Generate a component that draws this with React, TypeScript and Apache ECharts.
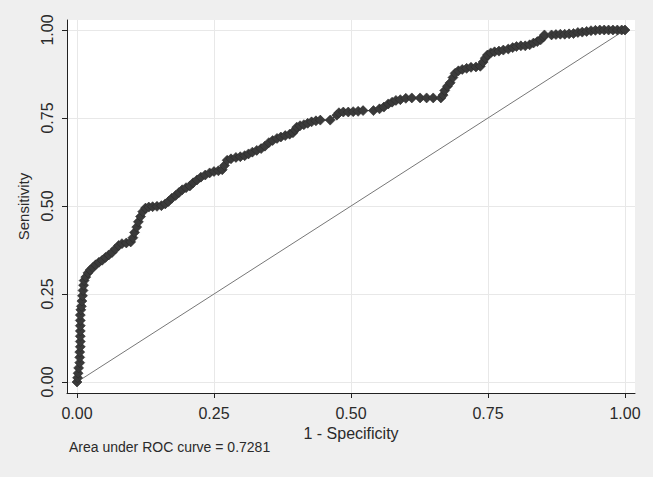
import React, { useEffect, useRef } from "react";
import * as echarts from "echarts";

const tickValues = [0, 0.25, 0.5, 0.75, 1];
const tickLabels = ["0.00", "0.25", "0.50", "0.75", "1.00"];
const xAxisTitle = "1 - Specificity";
const yAxisTitle = "Sensitivity";
const aucNote = "Area under ROC curve = 0.7281";

// 1 - specificity (false positive rate)
const fprValues = [
  0, 0.001, 0.002, 0.003, 0.005, 0.005, 0.005, 0.006, 0.006, 0.006, 0.006, 0.006, 0.006, 0.006,
  0.007, 0.008, 0.009, 0.01, 0.011, 0.012, 0.013, 0.016, 0.02, 0.024, 0.029, 0.034, 0.04, 0.046,
  0.052, 0.058, 0.064, 0.07, 0.076, 0.082, 0.09, 0.098, 0.102, 0.105, 0.109, 0.112, 0.116, 0.12,
  0.125, 0.131, 0.138, 0.146, 0.154, 0.161, 0.167, 0.173, 0.18, 0.186, 0.192, 0.199, 0.206, 0.212,
  0.219, 0.226, 0.234, 0.242, 0.25, 0.258, 0.265, 0.269, 0.274, 0.281, 0.29, 0.298, 0.306, 0.313,
  0.32, 0.328, 0.336, 0.343, 0.35, 0.357, 0.365, 0.372, 0.38, 0.388, 0.394, 0.398, 0.401, 0.407,
  0.414, 0.421, 0.428, 0.436, 0.444, 0.462, 0.474, 0.478, 0.486, 0.495, 0.504, 0.513, 0.522, 0.541,
  0.552, 0.56, 0.568, 0.575, 0.582, 0.59, 0.6, 0.611, 0.626, 0.638, 0.65, 0.664, 0.668, 0.671,
  0.676, 0.681, 0.686, 0.69, 0.696, 0.703, 0.711, 0.719, 0.728, 0.736, 0.741, 0.745, 0.749, 0.755,
  0.762, 0.77, 0.778, 0.787, 0.795, 0.802, 0.81, 0.818, 0.826, 0.833, 0.84, 0.846, 0.851, 0.853,
  0.866, 0.874, 0.882, 0.89, 0.898, 0.906, 0.914, 0.922, 0.93, 0.938, 0.946, 0.954, 0.962, 0.97,
  0.978, 0.986, 0.994, 1,
];

// sensitivity (true positive rate)
const tprValues = [
  0, 0.012, 0.025, 0.04, 0.055, 0.07, 0.085, 0.1, 0.115, 0.13, 0.145, 0.16, 0.175, 0.19,
  0.205, 0.215, 0.23, 0.245, 0.26, 0.275, 0.288, 0.298, 0.31, 0.318, 0.325, 0.333, 0.34, 0.346,
  0.354, 0.361, 0.368, 0.378, 0.388, 0.393, 0.395, 0.398, 0.41, 0.425, 0.44, 0.455, 0.47, 0.484,
  0.494, 0.497, 0.498, 0.499, 0.501, 0.506, 0.513, 0.522, 0.53, 0.538, 0.546, 0.552, 0.557, 0.566,
  0.574, 0.582, 0.588, 0.594, 0.598, 0.6, 0.603, 0.615, 0.63, 0.634, 0.638, 0.64, 0.643, 0.648,
  0.653, 0.658, 0.663, 0.67, 0.68, 0.686, 0.692, 0.696, 0.7, 0.704, 0.708, 0.716, 0.724, 0.728,
  0.731, 0.735, 0.739, 0.742, 0.744, 0.744, 0.758, 0.765, 0.767, 0.767, 0.768, 0.769, 0.771, 0.771,
  0.776, 0.781, 0.79, 0.795, 0.8, 0.802, 0.806, 0.807, 0.807, 0.807, 0.807, 0.807, 0.815, 0.828,
  0.84, 0.85, 0.865, 0.877, 0.884, 0.888, 0.891, 0.894, 0.895, 0.897, 0.909, 0.92, 0.929, 0.935,
  0.938, 0.94, 0.943, 0.946, 0.95, 0.953, 0.955, 0.955, 0.958, 0.963, 0.967, 0.972, 0.98, 0.986,
  0.986, 0.987, 0.988, 0.988, 0.989, 0.99, 0.993, 0.994, 0.996, 0.998, 0.999, 1, 1, 1,
  1, 1, 1, 1,
];

const referenceLine = [
  [0, 0],
  [1, 1],
];

export default function App() {
  const ref = useRef<HTMLDivElement>(null);

  useEffect(() => {
    if (!ref.current) return;
    const chart = echarts.init(ref.current, null, { renderer: "svg" });
    const font = "Liberation Sans, Arial, sans-serif";
    const rocData = fprValues.map((x, i) => [x, tprValues[i]]);
    const labelFmt = (v: number) => {
      const idx = tickValues.findIndex((t) => Math.abs(t - v) < 1e-9);
      return idx >= 0 ? tickLabels[idx] : "";
    };

    chart.setOption({
      animation: false,
      backgroundColor: "#efefef",
      grid: {
        left: 67,
        top: 20,
        width: 568,
        height: 373,
        show: true,
        backgroundColor: "#ffffff",
        borderWidth: 0,
      },
      xAxis: {
        type: "value",
        min: -0.01825,
        max: 1.01825,
        name: xAxisTitle,
        nameLocation: "middle",
        nameGap: 27,
        nameTextStyle: { fontFamily: font, fontSize: 16, color: "#2a2a2a" },
        axisLine: { show: true, onZero: false, lineStyle: { color: "#222", width: 1 } },
        axisTick: {
          show: true,
          inside: false,
          length: 5,
          customValues: tickValues,
          lineStyle: { color: "#222" },
        },
        axisLabel: {
          customValues: tickValues,
          formatter: labelFmt,
          fontFamily: font,
          fontSize: 16,
          color: "#2a2a2a",
          margin: 12,
        },
        splitLine: { show: true, lineStyle: { color: "#e8e8e8", width: 1 } },
      },
      yAxis: {
        type: "value",
        min: -0.03125,
        max: 1.02841,
        name: yAxisTitle,
        nameLocation: "middle",
        nameGap: 28,
        nameRotate: 90,
        nameTextStyle: { fontFamily: font, fontSize: 15, color: "#2a2a2a" },
        axisLine: { show: true, onZero: false, lineStyle: { color: "#222", width: 1 } },
        axisTick: {
          show: true,
          inside: false,
          length: 5,
          customValues: tickValues,
          lineStyle: { color: "#222" },
        },
        axisLabel: {
          customValues: tickValues,
          formatter: labelFmt,
          rotate: 90,
          fontFamily: font,
          fontSize: 16,
          color: "#2a2a2a",
          margin: 12,
        },
        splitLine: { show: true, lineStyle: { color: "#e8e8e8", width: 1 } },
      },
      series: [
        {
          type: "line",
          data: referenceLine,
          showSymbol: false,
          symbol: "none",
          lineStyle: { color: "#777777", width: 1 },
          z: 2,
        },
        {
          type: "line",
          data: rocData,
          symbol: "diamond",
          symbolSize: [10, 10],
          showSymbol: true,
          showAllSymbol: true,
          itemStyle: { color: "#3a3a3a", borderColor: "#2a2a2a", borderWidth: 0.6 },
          lineStyle: { color: "#333333", width: 1 },
          z: 3,
        },
      ],
      graphic: [
        {
          type: "text",
          left: 69,
          top: 440,
          style: {
            text: aucNote,
            fontFamily: font,
            fontSize: 14,
            fill: "#2a2a2a",
          },
        },
      ],
    });

    return () => chart.dispose();
  }, []);

  return (
    <div
      style={{
        position: "fixed",
        left: 0,
        top: 0,
        width: 655,
        height: 477,
        background: "#ffffff",
      }}
    >
      <div ref={ref} style={{ width: 653, height: 477 }} />
    </div>
  );
}
